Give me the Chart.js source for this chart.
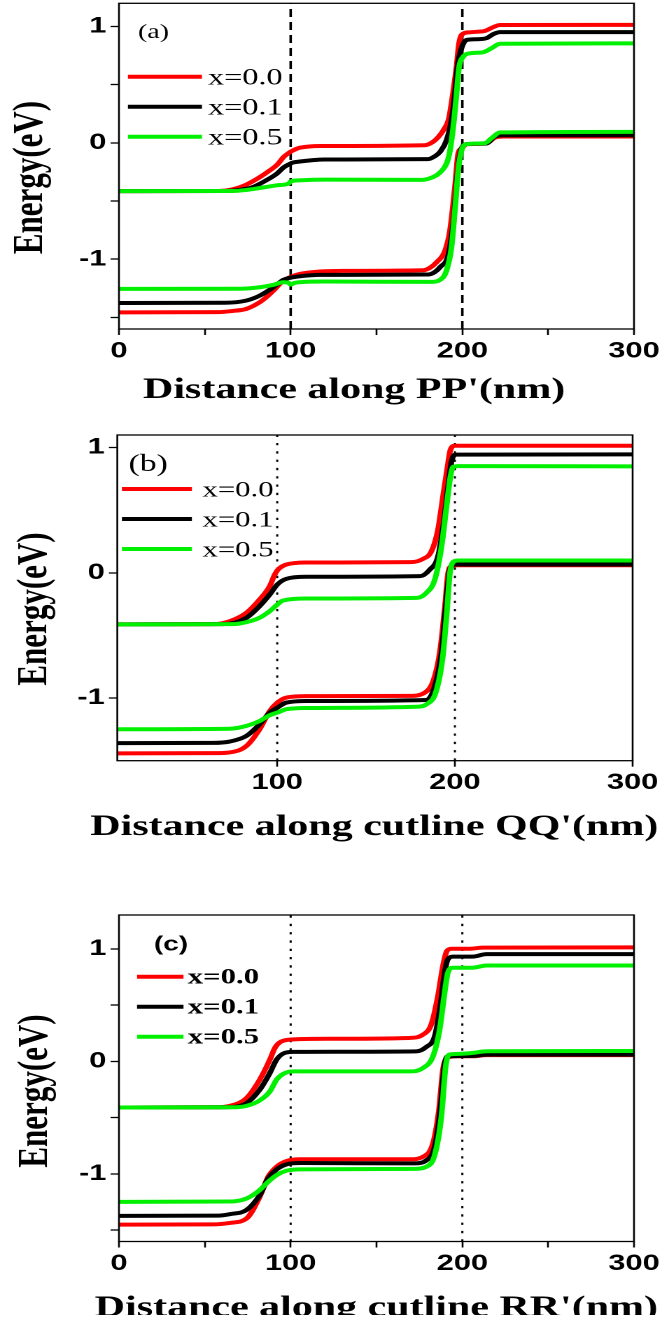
<!DOCTYPE html>
<html>
<head>
<meta charset="utf-8">
<script src="https://cdn.jsdelivr.net/npm/chart.js@4.4.1/dist/chart.umd.min.js"></script>
<style>
html, body { margin: 0; padding: 0; background: #fff; width: 662px; height: 1325px; overflow: hidden; }
/* the original figure is stretched sideways, so each panel is drawn narrow and scaled */
.panel { position: absolute; left: 0; width: 473px; transform: scaleX(1.39958); transform-origin: 0 0; overflow: hidden; }
</style>
</head>
<body>
<div class="panel" style="top:0;height:420px"><canvas id="chartA"></canvas></div>
<div class="panel" style="top:420px;height:440px"><canvas id="chartB"></canvas></div>
<div class="panel" style="top:860px;height:455px"><canvas id="chartC"></canvas></div>
<script>
// [distance (nm), energy (eV)]
// panel (a) - cutline PP'
const aCbRed = [[0,-0.415],[58,-0.414],[66,-0.40],[74,-0.36],[82,-0.295],[88,-0.235],[92,-0.19],[96,-0.12],[99,-0.085],[101,-0.068],[105,-0.043],[110,-0.032],[118,-0.027],[178,-0.02],[183,0.01],[186,0.05],[189,0.11],[192,0.2],[194,0.37],[196.6,0.655],[198.1,0.857],[200.5,0.94],[204,0.95],[208,0.955],[213,0.962],[218,0.995],[222,1.013],[300,1.015]];
const aCbBlack = [[0,-0.415],[62,-0.414],[70,-0.405],[78,-0.38],[86,-0.32],[92,-0.264],[96,-0.21],[99.6,-0.18],[101,-0.17],[105.4,-0.16],[113,-0.148],[120,-0.143],[180,-0.14],[184,-0.115],[187,-0.078],[190.8,0.023],[193.7,0.196],[195.3,0.367],[197.2,0.655],[199.2,0.8],[202.5,0.885],[208,0.891],[214,0.9],[218,0.935],[222,0.952],[300,0.952]];
const aCbGreen = [[0,-0.415],[66,-0.414],[74,-0.405],[82,-0.388],[92,-0.365],[99,-0.348],[100.2,-0.33],[105,-0.322],[120,-0.316],[177,-0.318],[181,-0.305],[185,-0.278],[188,-0.24],[190.8,-0.178],[192.5,-0.09],[193.7,0.02],[195.2,0.2],[196.5,0.4],[198.1,0.65],[200.5,0.74],[204.4,0.77],[212,0.779],[217,0.814],[222,0.852],[300,0.855]];
const aVbRed = [[0,-1.457],[58,-1.455],[66,-1.445],[74,-1.428],[82,-1.37],[86,-1.325],[90,-1.27],[95.7,-1.184],[99.6,-1.155],[105.4,-1.126],[117,-1.106],[130,-1.1],[177,-1.095],[181,-1.075],[185,-1.026],[190,-0.925],[192.8,-0.753],[195.7,-0.379],[197.6,-0.092],[199.6,-0.048],[202.5,-0.011],[210,-0.008],[214,-0.005],[219,0.045],[224,0.055],[300,0.055]];
const aVbBlack = [[0,-1.376],[62,-1.374],[74,-1.356],[82,-1.313],[90,-1.241],[95.7,-1.178],[99.6,-1.16],[105.4,-1.147],[117,-1.135],[180,-1.132],[184,-1.11],[187,-1.069],[192,-0.954],[194.9,-0.666],[197.2,-0.264],[199.2,-0.063],[202.5,-0.011],[214,-0.005],[219,0.055],[224,0.066],[300,0.066]];
const aVbGreen = [[0,-1.255],[70,-1.254],[82,-1.241],[90,-1.22],[95.7,-1.198],[98.5,-1.2],[100,-1.218],[102,-1.205],[105.4,-1.198],[120.7,-1.192],[182,-1.195],[187,-1.178],[190.8,-1.097],[193.7,-0.896],[196,-0.523],[197.6,-0.235],[199.6,-0.063],[202.5,-0.011],[213,-0.003],[217,0.04],[222,0.09],[300,0.095]];

// panel (b) - cutline QQ'
const bCbRed = [[10,-0.412],[64,-0.41],[73.3,-0.386],[82.7,-0.319],[90.1,-0.213],[95.8,-0.106],[98.6,-0.014],[100.5,0.026],[105.2,0.066],[116.4,0.082],[175,0.085],[182.1,0.111],[186.8,0.172],[190.5,0.345],[193.3,0.61],[195.6,0.823],[197.5,0.982],[199.9,1.014],[300,1.014]];
const bCbBlack = [[10,-0.412],[69.5,-0.41],[82.7,-0.359],[90.1,-0.266],[95.8,-0.173],[100.1,-0.093],[105.2,-0.048],[116.4,-0.032],[180.3,-0.027],[185.9,0.026],[190.5,0.132],[193.7,0.398],[196.2,0.69],[198.1,0.889],[200.5,0.943],[300,0.945]];
const bCbGreen = [[10,-0.412],[75,-0.41],[82.7,-0.394],[90.1,-0.359],[95.8,-0.306],[100.1,-0.253],[103.3,-0.221],[116.4,-0.205],[178.4,-0.2],[184,-0.159],[188.7,-0.053],[192.5,0.212],[195.3,0.531],[197.5,0.77],[198.9,0.845],[201.7,0.852],[300,0.85]];
const bVbRed = [[10,-1.442],[63.9,-1.44],[73.3,-1.434],[82.7,-1.382],[90.1,-1.249],[95.8,-1.103],[100.1,-1.036],[105.2,-0.996],[116.4,-0.985],[174.6,-0.983],[183.1,-0.956],[187.8,-0.864],[191.5,-0.637],[194.4,-0.266],[196.2,0],[198.1,0.053],[200.9,0.06],[300,0.06]];
const bVbBlack = [[10,-1.36],[63.9,-1.358],[73.3,-1.347],[82.7,-1.302],[90.1,-1.209],[95.8,-1.116],[100.1,-1.076],[105.2,-1.036],[116.4,-1.023],[184,-1.015],[188.7,-0.904],[192.5,-0.637],[194.9,-0.266],[197.2,0.026],[199.9,0.066],[300,0.066]];
const bVbGreen = [[10,-1.249],[73.3,-1.245],[82.7,-1.222],[90.1,-1.183],[95.8,-1.137],[100.1,-1.116],[105.2,-1.089],[116.4,-1.079],[180,-1.068],[184,-1.05],[189.2,-0.956],[193,-0.69],[195.3,-0.346],[197.2,0],[198.9,0.085],[201.7,0.098],[300,0.098]];

// panel (c) - cutline RR'
const cCbRed = [[0,-0.41],[55,-0.408],[64.6,-0.395],[74.3,-0.326],[82,-0.163],[87.9,0.015],[90.8,0.119],[93.7,0.169],[99.5,0.193],[113,0.2],[169.3,0.208],[177.1,0.238],[181.9,0.327],[185.8,0.58],[188.7,0.847],[191,0.98],[193.6,1.0],[204,1.0],[212,1.01],[300,1.012]];
const cCbBlack = [[0,-0.41],[62,-0.408],[74.3,-0.371],[82,-0.252],[87.9,-0.103],[91.8,0.015],[95.6,0.069],[101.5,0.084],[173.2,0.089],[179,0.128],[183.9,0.223],[187.2,0.49],[189.7,0.788],[191.6,0.906],[194.5,0.93],[206,0.93],[214,0.952],[300,0.952]];
const cCbGreen = [[0,-0.41],[66,-0.408],[74.3,-0.395],[82,-0.347],[87.9,-0.267],[91.8,-0.163],[95.6,-0.112],[101.5,-0.089],[169.3,-0.089],[177.1,-0.059],[182.9,0.045],[186.8,0.283],[189.7,0.61],[191.6,0.788],[194.5,0.832],[206,0.832],[214,0.852],[300,0.852]];
const cVbRed = [[0,-1.45],[55,-1.448],[64.6,-1.435],[74.3,-1.396],[82,-1.203],[86.9,-1.025],[91.8,-0.936],[97.6,-0.885],[105.4,-0.87],[169,-0.87],[178,-0.84],[182.9,-0.728],[186.4,-0.43],[188.7,-0.074],[191,0.03],[196.5,0.045],[206,0.045],[214,0.055],[300,0.055]];
const cVbBlack = [[0,-1.372],[58,-1.37],[64.6,-1.357],[74.3,-1.32],[82,-1.188],[86.9,-1.04],[91.8,-0.96],[97.6,-0.915],[105.4,-0.903],[172,-0.906],[179,-0.88],[183.9,-0.758],[187.2,-0.43],[189.5,-0.045],[191.6,0.045],[206,0.048],[214,0.06],[300,0.06]];
const cVbGreen = [[0,-1.248],[64.6,-1.245],[74.3,-1.218],[82,-1.143],[86.9,-1.07],[91.8,-1.01],[97.6,-0.971],[105.4,-0.959],[172,-0.955],[179,-0.936],[183.9,-0.832],[187.8,-0.49],[190.3,-0.045],[192.3,0.06],[198.4,0.067],[206,0.075],[214,0.09],[300,0.092]];

const seriesLabels = ['x=0.0', 'x=0.1', 'x=0.5'];
const seriesColors = ['#ff0000', '#000000', '#00f000'];
const dividerX = [100, 200];
// tick marks (minor ones get no label) and the values that carry a label
const xTicksFull = [0, 50, 100, 150, 200, 250, 300];
const xTicksMajor = [100, 200, 300];
const yTicksFull = [-1.5, -1, -0.5, 0, 0.5, 1];
const yTicksMajor = [-1, 0, 1];
const xLabelValues = [0, 100, 200, 300];
const yLabelValues = [-1, 0, 1];

const serif = '"Liberation Serif", "Times New Roman", serif';
const sans = '"Liberation Sans", Arial, sans-serif';

const panels = [
    {
        id: 'chartA', left: 85, right: 20, top: 3.3, xh: 91,
        xMin: 0, xMax: 300, xTicks: xTicksFull, yMin: -1.6, yMax: 1.2, yTicks: yTicksFull,
        curves: [[aCbRed, aVbRed], [aCbBlack, aVbBlack], [aCbGreen, aVbGreen]],
        dash: [8, 5], dashWidth: 1.8,
        xTitle: "Distance along PP'(nm)", xTitlePos: [253, 398], yTitlePos: [30.1, 177.5],
        tag: '(a)', tagFont: '20px ' + serif, tagPos: [98.6, 38],
        legend: { x0: 91.4, x1: 144.3, rows: [76.7, 106.7, 136.7], textX: 148.6, textDy: 8, font: '23px ' + serif }
    },
    {
        id: 'chartB', left: 83.8, right: 21, top: 15, xh: 99.3,
        xMin: 10, xMax: 300, xTicks: xTicksMajor, yMin: -1.5, yMax: 1.1, yTicks: yTicksMajor,
        curves: [[bCbRed, bVbRed], [bCbBlack, bVbBlack], [bCbGreen, bVbGreen]],
        dash: [2.3, 6], dashWidth: 1.5,
        xTitle: "Distance along cutline QQ'(nm)", xTitlePos: [267.4, 415], yTitlePos: [33.1, 189],
        tag: '(b)', tagFont: '24px ' + serif, tagPos: [91.9, 51],
        legend: { x0: 87.1, x1: 137.1, rows: [69, 99, 129], textX: 144.6, textDy: 7.7, font: '22px ' + serif }
    },
    {
        id: 'chartC', left: 85, right: 20, top: 55, xh: 73.5,
        xMin: 0, xMax: 300, xTicks: xTicksFull, yMin: -1.6, yMax: 1.3, yTicks: yTicksFull,
        curves: [[cCbRed, cVbRed], [cCbBlack, cVbBlack], [cCbGreen, cVbGreen]],
        dash: [2.3, 6], dashWidth: 1.5,
        xTitle: "Distance along cutline RR'(nm)", xTitlePos: [268.9, 456], yTitlePos: [33.7, 231],
        tag: '(c)', tagFont: 'bold 20px ' + sans, tagPos: [110, 90.5],
        legend: { x0: 97.9, x1: 131.1, rows: [116.7, 146.7, 176.7], textX: 134.1, textDy: 6.6, font: 'bold 22px ' + serif }
    }
];

// frame, axis titles, panel tag and legend drawn on top of the chart
const decor = {
    id: 'decor',
    afterDraw(chart, args, o) {
        const ctx = chart.ctx;
        const a = chart.chartArea;
        ctx.save();
        ctx.strokeStyle = '#000';
        ctx.lineWidth = 1.3;
        ctx.strokeRect(a.left, a.top, a.right - a.left, a.bottom - a.top);

        ctx.fillStyle = '#000';
        ctx.textAlign = 'center';
        ctx.textBaseline = 'alphabetic';
        ctx.font = 'bold 30px ' + serif;
        ctx.fillText(o.xTitle, o.xTitlePos[0], o.xTitlePos[1]);

        ctx.save();
        ctx.translate(o.yTitlePos[0], o.yTitlePos[1]);
        ctx.rotate(-Math.PI / 2);
        ctx.font = 'bold 31px ' + serif;
        ctx.fillText('Energy(eV)', 0, 0);
        ctx.restore();

        ctx.textAlign = 'left';
        ctx.font = o.tagFont;
        ctx.fillText(o.tag, o.tagPos[0], o.tagPos[1]);

        const lg = o.legend;
        ctx.font = lg.font;
        seriesLabels.forEach((label, i) => {
            const y = lg.rows[i];
            ctx.strokeStyle = seriesColors[i];
            ctx.lineWidth = 4;
            ctx.beginPath();
            ctx.moveTo(lg.x0, y);
            ctx.lineTo(lg.x1, y);
            ctx.stroke();
            ctx.fillText(label, lg.textX, y + lg.textDy);
        });
        ctx.restore();
    }
};

function isLabel(v, list) {
    return list.some(t => Math.abs(t - v) < 1e-6);
}

function drawPanel(p) {
    const datasets = [];
    p.curves.forEach((bands, i) => {
        bands.forEach(pts => {
            datasets.push({
                data: pts.map(d => ({ x: d[0], y: d[1] })),
                borderColor: seriesColors[i],
                borderWidth: 4,
                pointRadius: 0,
                showLine: true,
                fill: false,
                cubicInterpolationMode: 'monotone',
                order: 2 - i
            });
        });
    });
    dividerX.forEach(x => {
        datasets.push({
            data: [{ x: x, y: p.yMin }, { x: x, y: p.yMax }],
            borderColor: '#000',
            borderWidth: p.dashWidth,
            borderDash: p.dash,
            pointRadius: 0,
            showLine: true,
            order: 5
        });
    });

    const tickFont = { family: sans, weight: 'bold', size: 22 };

    new Chart(document.getElementById(p.id), {
        type: 'scatter',
        data: { datasets: datasets },
        options: {
            responsive: true,
            maintainAspectRatio: false,
            devicePixelRatio: 2,
            animation: false,
            events: [],
            layout: { padding: { left: 0, right: p.right, top: p.top, bottom: 0 } },
            plugins: {
                legend: { display: false },
                tooltip: { enabled: false },
                decor: p
            },
            scales: {
                x: {
                    type: 'linear',
                    min: p.xMin,
                    max: p.xMax,
                    border: { display: false },
                    grid: { drawOnChartArea: false, tickLength: 6, tickColor: '#000', tickWidth: 1.3 },
                    ticks: {
                        autoSkip: false, maxRotation: 0,
                        color: '#000', padding: 3, font: tickFont,
                        callback: v => isLabel(v, xLabelValues) ? String(v) : ''
                    },
                    afterBuildTicks(scale) {
                        scale.ticks = p.xTicks.map(v => ({ value: v }));
                    },
                    afterFit(scale) {
                        scale.height = p.xh;
                        scale.paddingLeft = 0;
                        scale.paddingRight = 0;
                    }
                },
                y: {
                    type: 'linear',
                    min: p.yMin,
                    max: p.yMax,
                    border: { display: false },
                    grid: { drawOnChartArea: false, tickLength: 6, tickColor: '#000', tickWidth: 1.3 },
                    ticks: {
                        autoSkip: false,
                        color: '#000', padding: 3, font: tickFont,
                        callback: v => isLabel(v, yLabelValues) ? String(Math.round(v)) : ''
                    },
                    afterBuildTicks(scale) {
                        scale.ticks = p.yTicks.map(v => ({ value: v }));
                    },
                    afterFit(scale) {
                        scale.width = p.left;
                        scale.paddingTop = 0;
                        scale.paddingBottom = 0;
                    }
                }
            }
        },
        plugins: [decor]
    });
}

panels.forEach(drawPanel);
</script>
</body>
</html>
